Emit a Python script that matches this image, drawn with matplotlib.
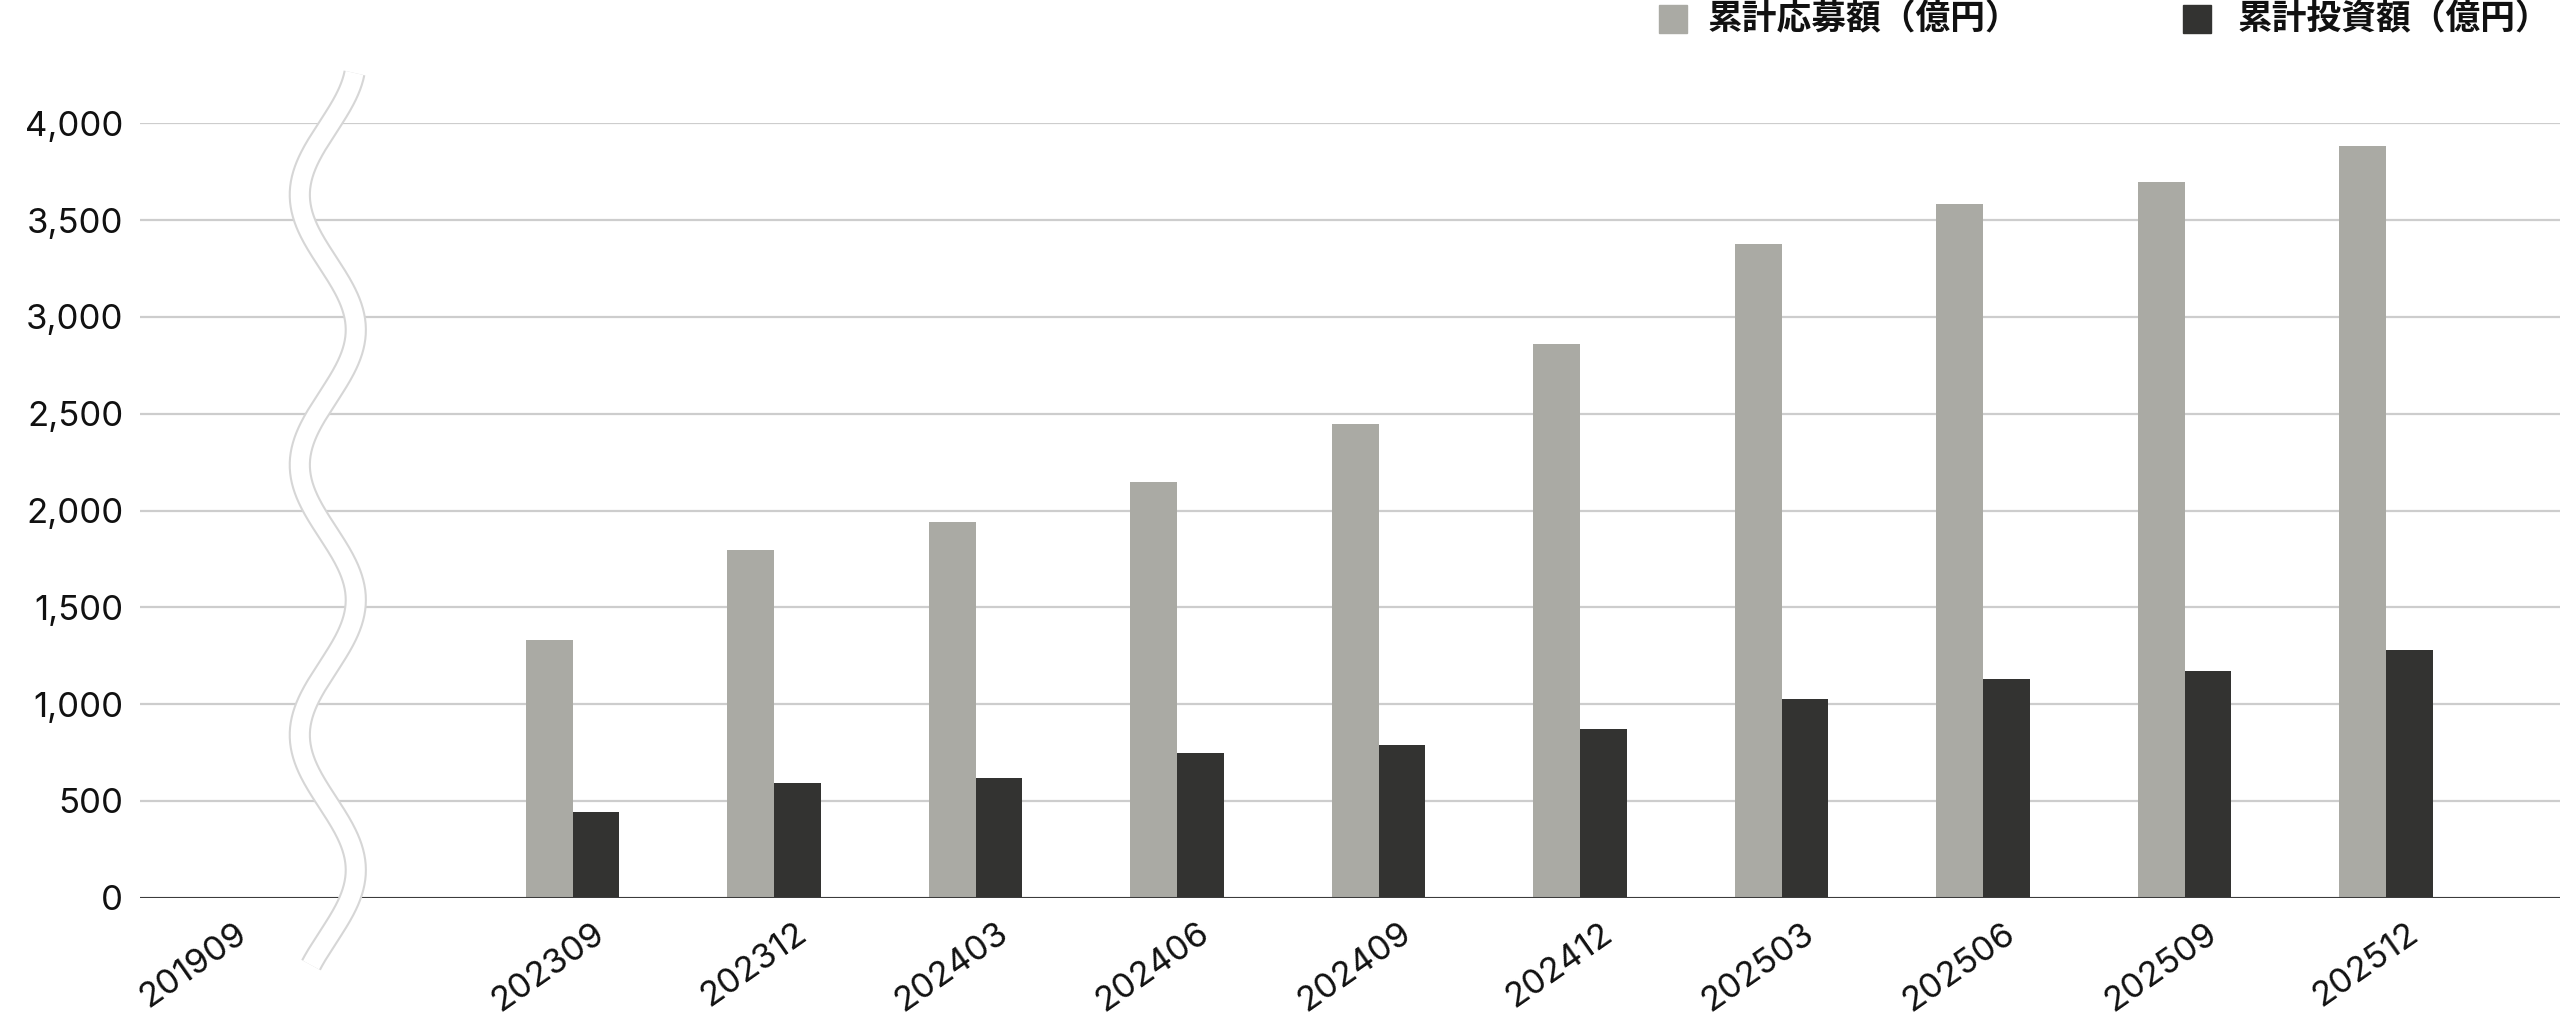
import numpy as np
import matplotlib
matplotlib.use('Agg')
import matplotlib.pyplot as plt
from matplotlib.patches import Rectangle
from matplotlib.ticker import FuncFormatter
import matplotlib.transforms as mtransforms

plt.rcParams['font.family'] = ['Inter', 'Noto Sans CJK JP', 'DejaVu Sans']

# data (億円)
periods = ['201909', '202309', '202312', '202403', '202406', '202409',
           '202412', '202503', '202506', '202509', '202512']
applied = [0, 1330, 1795, 1943, 2148, 2445, 2858, 3375, 3583, 3695, 3881]
invested = [0, 445, 593, 616, 745, 790, 873, 1026, 1128, 1172, 1277]
label_applied = '累計応募額（億円）'
label_invested = '累計投資額（億円）'

c_applied = '#aaaaa4'
c_invested = '#333331'

fig = plt.figure(figsize=(25.6, 10.27), dpi=100)
ax = fig.add_axes([140 / 2560, 1 - 897.7 / 1027, 2420 / 2560, 774.4 / 1027])

# first period sits before an axis break
gap = 1.775
x = np.r_[0, np.arange(len(periods) - 1) + gap]
w = 0.232

ax.bar(x - w / 2, applied, w, color=c_applied, zorder=3)
ax.bar(x + w / 2, invested, w, color=c_invested, zorder=3)

ax.set_xlim(-0.372, 11.638)
ax.set_ylim(0, 4000)
ax.set_yticks(np.arange(0, 4001, 500))
ax.yaxis.set_major_formatter(FuncFormatter(lambda v, p: '{:,.0f}'.format(v)))
ax.grid(axis='y', color='#cdcdcd', linewidth=1.6, zorder=0)
ax.axhline(0, color='#3c3c3c', linewidth=2.2, zorder=4)
for s in ax.spines.values():
    s.set_visible(False)
ax.tick_params(axis='both', length=0, labelsize=25, colors='#111111')
ax.tick_params(axis='y', pad=12)
ax.tick_params(axis='x', pad=14)

ax.set_xticks(x)
ax.set_xticklabels(periods, rotation=35, ha='right', va='top',
                   rotation_mode='anchor')
offset = mtransforms.ScaledTranslation(0.2, 0, fig.dpi_scale_trans)
for lab in ax.get_xticklabels():
    lab.set_transform(lab.get_transform() + offset)

# wavy break between 201909 and 202309
yy = np.linspace(4260, -348, 600)
xx = 0.56 + 0.139 * np.cos(2 * np.pi * (yy - 143) / 1395)
ax.plot(xx, yy, color='#d6d6d6', linewidth=16, solid_capstyle='butt',
        clip_on=False, zorder=5)
ax.plot(xx, yy, color='white', linewidth=13, solid_capstyle='butt',
        clip_on=False, zorder=6)

# legend at the top right
H = 1027
for sx, tx, lab, col in [(1659, 1708, label_applied, c_applied),
                         (2183, 2238, label_invested, c_invested)]:
    fig.patches.append(Rectangle((sx / 2560, 1 - 33 / H), 28 / 2560, 28 / H,
                                 transform=fig.transFigure, color=col))
    fig.text(tx / 2560, 1 - 19 / H, lab, fontsize=25, fontweight='bold',
             va='center', ha='left', color='#111111',
             family=['Noto Sans CJK JP', 'DejaVu Sans'])

fig.savefig('out.png', dpi=100, facecolor='white')
